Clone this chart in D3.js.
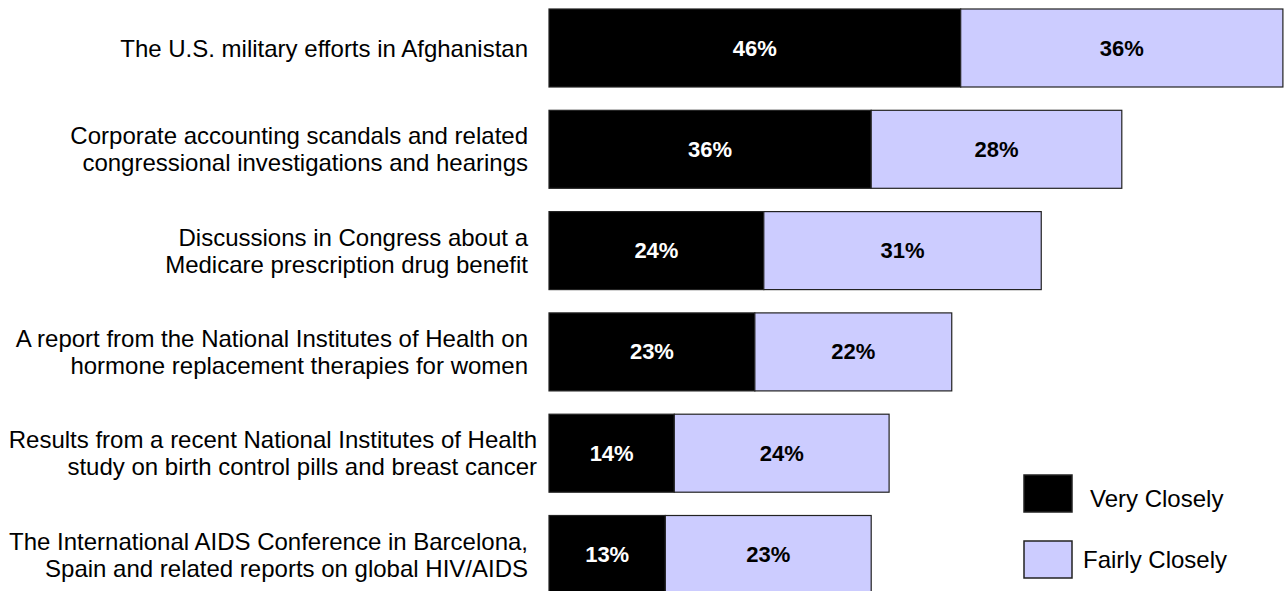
<!DOCTYPE html>
<html>
<head>
<meta charset="utf-8">
<script src="https://cdn.jsdelivr.net/npm/d3@7"></script>
<style>
  html, body { margin: 0; padding: 0; background: #fff; }
  svg { display: block; }
  text { font-family: "Liberation Sans", Arial, sans-serif; }
</style>
</head>
<body>
<svg id="chart" width="1286" height="591"></svg>
<script>
const categories = [
  ["The U.S. military efforts in Afghanistan"],
  ["Corporate accounting scandals and related", "congressional investigations and hearings"],
  ["Discussions in Congress about a", "Medicare prescription drug benefit"],
  ["A report from the National Institutes of Health on", "hormone replacement therapies for women"],
  ["Results from a recent National Institutes of Health", "study on birth control pills and breast cancer"],
  ["The International AIDS Conference in Barcelona,", "Spain and related reports on global HIV/AIDS"]
];
const seriesNames = ["Very Closely", "Fairly Closely"];
const veryClosely = [46, 36, 24, 23, 14, 13];
const fairlyClosely = [36, 28, 31, 22, 24, 23];
const colors = ["#000000", "#CCCCFF"];
const labelColors = ["#FFFFFF", "#000000"];

const svg = d3.select("#chart");
const ids = categories.map((c, i) => i);

const x = d3.scaleLinear().domain([0, 100]).range([549, 549 + 895]);
const y = d3.scaleBand().domain(ids).range([9, 9 + 101.3 * 5.77]).paddingInner(0.23).paddingOuter(0);

const data = ids.map(i => ({ i, v: [veryClosely[i], fairlyClosely[i]] }));
const stack = d3.stack().keys([0, 1]).value((d, k) => d.v[k]);
const layers = stack(data);

layers.forEach((layer, k) => {
  const g = svg.append("g");
  g.selectAll("rect").data(layer).join("rect")
    .attr("x", d => x(d[0]))
    .attr("y", d => y(d.data.i))
    .attr("width", d => x(d[1]) - x(d[0]))
    .attr("height", y.bandwidth())
    .attr("fill", colors[k])
    .attr("stroke", "#222")
    .attr("stroke-width", 1.2);
  g.selectAll("text").data(layer).join("text")
    .attr("x", d => (x(d[0]) + x(d[1])) / 2)
    .attr("y", d => y(d.data.i) + y.bandwidth() / 2)
    .attr("text-anchor", "middle")
    .attr("dominant-baseline", "central")
    .attr("font-size", 22)
    .attr("font-weight", "bold")
    .attr("fill", labelColors[k])
    .text(d => (d[1] - d[0]) + "%");
});

// category labels
const lab = svg.append("g");
categories.forEach((lines, i) => {
  const cy = y(i) + y.bandwidth() / 2;
  const lh = 27;
  const rx = i === 4 ? 537 : 528;
  const t = lab.append("text")
    .attr("text-anchor", "end")
    .attr("font-size", 24)
    .attr("fill", "#000");
  lines.forEach((ln, j) => {
    t.append("tspan")
      .attr("x", rx)
      .attr("y", cy + (j - (lines.length - 1) / 2) * lh)
      .attr("dominant-baseline", "central")
      .text(ln);
  });
});

// legend
const leg = svg.append("g");
const legY = [475, 541];
const legTextX = [1090, 1083];
const legTextY = [498, 559];
seriesNames.forEach((name, k) => {
  leg.append("rect")
    .attr("x", 1024).attr("y", legY[k])
    .attr("width", 48).attr("height", 37)
    .attr("fill", colors[k])
    .attr("stroke", "#222").attr("stroke-width", 1.5);
  leg.append("text")
    .attr("x", legTextX[k]).attr("y", legTextY[k])
    .attr("dominant-baseline", "central")
    .attr("font-size", 24)
    .attr("fill", "#000")
    .text(name);
});
</script>
</body>
</html>
